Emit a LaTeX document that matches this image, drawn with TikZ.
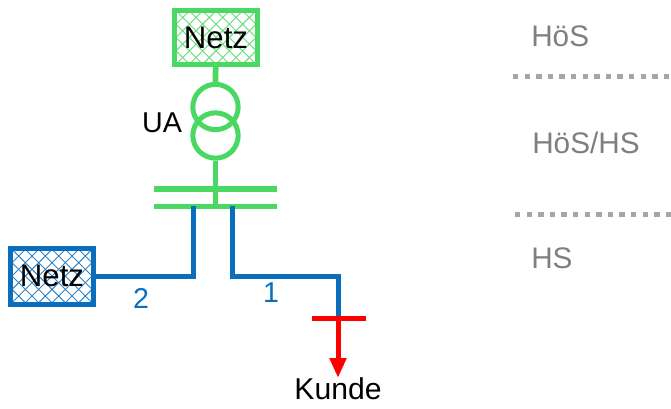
\documentclass[tikz,border=0pt]{standalone}
\usepackage{fontspec}
\setmainfont{Liberation Sans}
\usetikzlibrary{arrows.meta}
\definecolor{lgreen}{HTML}{4AD762}
\definecolor{nblue}{HTML}{0A6EBD}
\definecolor{hgray}{HTML}{7F7F7F}
\definecolor{dgray}{HTML}{A6A6A6}
\tikzset{
  px/.style={x=0.75pt,y=-0.75pt},
  netzbox/.style n args={3}{draw=#1,line width=#2,minimum width=#3,inner sep=0pt,
    font=\fontsize{23.4pt}{26pt}\selectfont,text=black,
    path picture={
      \foreach \i in {-14,...,14}{
        \draw[#1!85!white,line width=0.7pt]
          ([xshift=\i*10pt,yshift=-60pt]path picture bounding box.center) -- ++(120pt,120pt);
        \draw[#1!85!white,line width=0.7pt]
          ([xshift=\i*10pt,yshift=60pt]path picture bounding box.center) -- ++(120pt,-120pt);
      }
    }},
  trafo/.style={circle,draw=lgreen,line width=3.75pt,minimum size=34pt,inner sep=0pt},
  gwire/.style={draw=lgreen,line width=4.3pt},
  bwire/.style={draw=nblue,line width=3.75pt},
  rwire/.style={draw=red,line width=3.75pt},
  lvl/.style={dgray,line width=3.75pt,dash pattern=on 4pt off 4.7pt},
  lvltxt/.style={text=hgray,font=\fontsize{22.3pt}{24pt}\selectfont,anchor=west,inner sep=0pt},
  lab/.style={font=\fontsize{21.5pt}{24pt}\selectfont,inner sep=0pt},
  kundetxt/.style={font=\fontsize{22.6pt}{24pt}\selectfont,inner sep=0pt}
}
\begin{document}
\begin{tikzpicture}[px]
\useasboundingbox (0,0) rectangle (671,408);
% transformer
\node[trafo] (t1) at (215.5,107) {};
\node[trafo] (t2) at (215.5,135.5) {};
% net boxes
\node[netzbox={lgreen}{3.75pt}{62pt},minimum height=40.5pt] (n1) at (216,37.5) {Netz};
\node[netzbox={nblue}{3.75pt}{62pt},minimum height=42pt] (n2) at (52,276) {Netz};
% bus bars
\coordinate (a1) at (154,189); \coordinate (a2) at (277,189);
\coordinate (b1) at (154,206.5); \coordinate (b2) at (277,206.5);
\coordinate (bj) at (215.5,206.5);
\draw[gwire] (n1) -- (t1.north);
\draw[gwire] (t2.south) -- (bj);
\draw[gwire] (a1) -- (a2);
\draw[gwire] (b1) -- (b2);
% blue feeders
\coordinate (f2) at (193,206); \coordinate (f1) at (232,206);
\coordinate (k) at (338,318);
\draw[bwire,line join=miter] (f2) |- (n2.east);
\draw[bwire,line join=miter] (f1) -- (232,276) -- (338,276) -- (k);
% customer
\coordinate (k1) at (312,318); \coordinate (k2) at (366,318);
\coordinate (ke) at (338,378);
\draw[rwire] (k1) -- (k2);
\draw[rwire,-{Triangle[length=15pt,width=12pt]}] (k) -- (ke);
% labels
\node[lab] (ua) at (162,123) {UA};
\node[lab,text=nblue] (l2) at (141,298) {2};
\node[lab,text=nblue] (l1) at (271,293) {1};
\node[kundetxt] (ku) at (338,389) {Kunde};
% levels
\node[lvltxt] (h1) at (531,36) {HöS};
\node[lvltxt] (h2) at (532,143) {HöS/HS};
\node[lvltxt] (h3) at (531,258) {HS};
\coordinate (d1a) at (513,76); \coordinate (d1b) at (671,76);
\coordinate (d2a) at (515,214); \coordinate (d2b) at (671,214);
\draw[lvl] (d1a) -- (d1b);
\draw[lvl] (d2a) -- (d2b);
\end{tikzpicture}
\end{document}
